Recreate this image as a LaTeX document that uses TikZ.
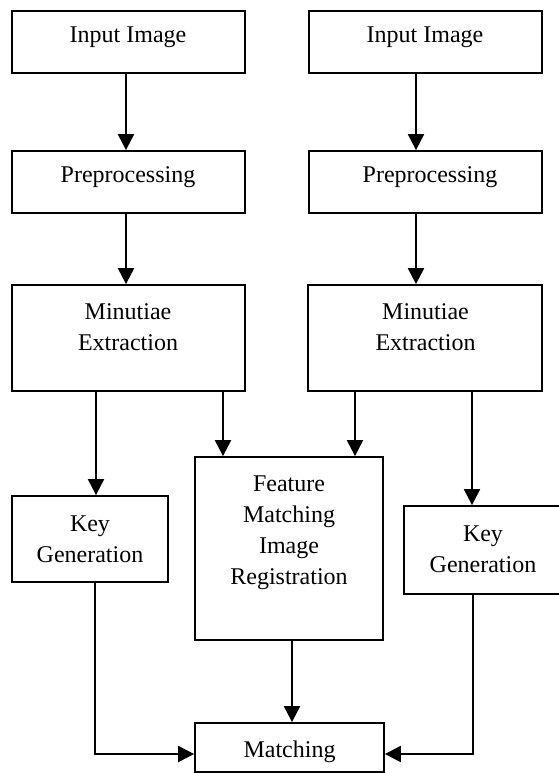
\documentclass[tikz,border=0pt]{standalone}
\usepackage{fontspec}
\setmainfont{Liberation Serif}
\usetikzlibrary{arrows.meta}
\begin{document}
\begin{tikzpicture}[x=1pt,y=-1pt,
  box/.style={draw, line width=1.8pt, inner sep=0pt},
  lbl/.style={font=\fontsize{24}{31}\selectfont, align=center, inner sep=0pt},
  arr/.style={line width=2.2pt, -{Triangle[length=16pt,width=16pt]}},
  ln/.style={line width=2.2pt}]
\useasboundingbox (0,0) rectangle (558,773);
% boxes
\node[box, minimum width=233pt, minimum height=62pt] (inL) at (128.5,42) {};
\node[box, minimum width=233pt, minimum height=62pt] (inR) at (425.5,42) {};
\node[box, minimum width=233pt, minimum height=62pt] (preL) at (128.5,182) {};
\node[box, minimum width=233pt, minimum height=62pt] (preR) at (425.5,182) {};
\node[box, minimum width=233pt, minimum height=106pt] (minL) at (128.5,338) {};
\node[box, minimum width=234pt, minimum height=106pt] (minR) at (425,338) {};
\node[box, minimum width=156pt, minimum height=86pt] (keyL) at (90,539) {};
\node[box, minimum width=188pt, minimum height=183pt] (feat) at (289,548.5) {};
\node[box, minimum width=156pt, minimum height=88pt] (keyR) at (482,550) {};
\node[box, minimum width=189pt, minimum height=49pt] (match) at (289.5,747.5) {};
% labels
\node[lbl] (tInL) at (128,37.5) {Input Image};
\node[lbl] (tInR) at (425,37.5) {Input Image};
\node[lbl] (tPreL) at (128,177.5) {Preprocessing};
\node[lbl] (tPreR) at (430,177.5) {Preprocessing};
\node[lbl] (tMinL) at (128,327) {Minutiae\\Extraction};
\node[lbl] (tMinR) at (425.5,327) {Minutiae\\Extraction};
\node[lbl] (tKeyL) at (90,539) {Key\\Generation};
\node[lbl] (tKeyR) at (483,549.5) {Key\\Generation};
\node[lbl] (tFeat) at (289,533) {Feature\\Matching\\Image\\Registration};
\node[lbl] (tMatch) at (289.5,752) {Matching};
% guide coordinates
\coordinate (x126) at (126,0);
\coordinate (x416) at (416,0);
\coordinate (x96) at (96,0);
\coordinate (x223) at (223,0);
\coordinate (x355) at (355,0);
\coordinate (x472) at (472,0);
\coordinate (x292) at (292,0);
\coordinate (cL) at (95,754);
\coordinate (cR) at (473,754);
% connectors
\draw[arr] (inL.south -| x126) -- (preL.north -| x126);
\draw[arr] (inR.south -| x416) -- (preR.north -| x416);
\draw[arr] (preL.south -| x126) -- (minL.north -| x126);
\draw[arr] (preR.south -| x416) -- (minR.north -| x416);
\draw[arr] (minL.south -| x96) -- (keyL.north -| x96);
\draw[arr] (minL.south -| x223) -- (feat.north -| x223);
\draw[arr] (minR.south -| x355) -- (feat.north -| x355);
\draw[arr] (minR.south -| x472) -- (keyR.north -| x472);
\draw[arr] (feat.south -| x292) -- (match.north -| x292);
\draw[arr] (keyL.south -| cL) -- (cL) -- (match.west |- cL);
\draw[arr] (keyR.south -| cR) -- (cR) -- (match.east |- cR);
\end{tikzpicture}
\end{document}
